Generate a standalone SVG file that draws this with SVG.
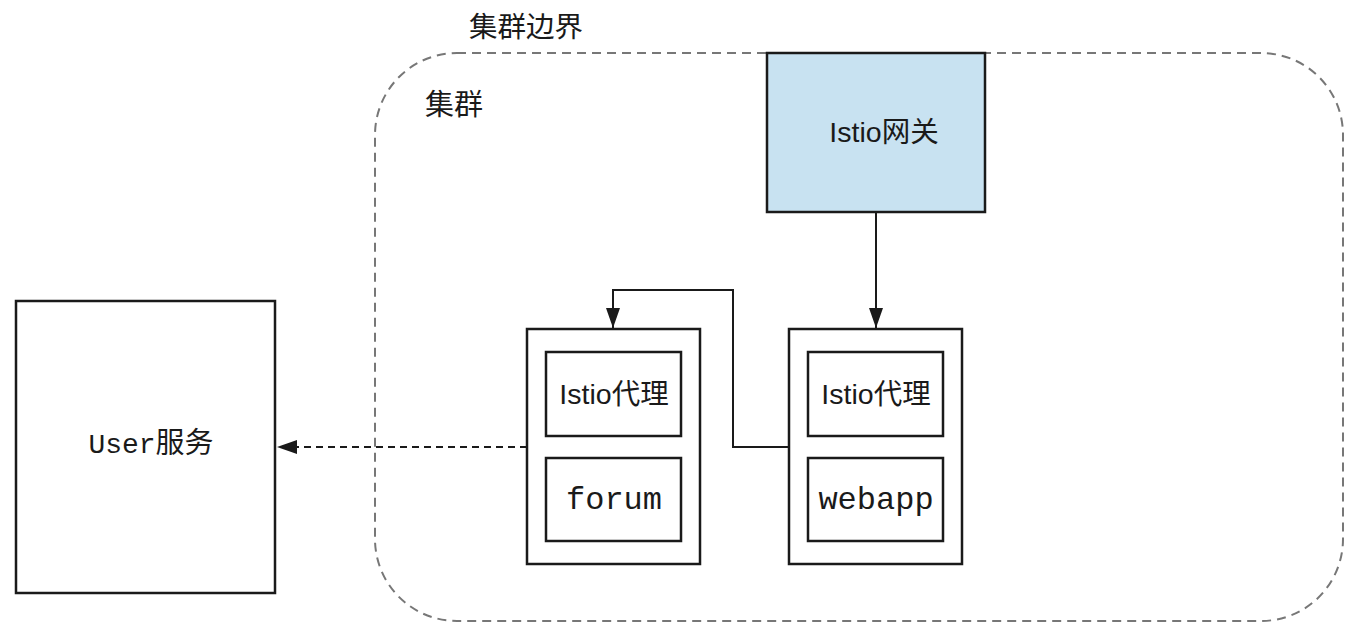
<svg xmlns="http://www.w3.org/2000/svg" width="1364" height="640" viewBox="0 0 1364 640">
<style>
.box{fill:#fff;stroke:#1a1a1a;stroke-width:2.5}
.sans{font-family:"Liberation Sans","Noto Sans CJK SC",sans-serif;font-size:28.5px;fill:#1a1a1a}
.mono{font-family:"Liberation Mono","Noto Sans CJK SC",monospace;font-size:32px;fill:#1a1a1a}
.cjk{font-family:"Noto Sans CJK SC",sans-serif;fill:#1a1a1a}
.line{fill:none;stroke:#1a1a1a;stroke-width:2}
</style>
<defs>
<marker id="arrL" viewBox="0 0 20 14" refX="20" refY="7" markerWidth="20" markerHeight="14" markerUnits="userSpaceOnUse" orient="auto">
<path d="M0,0 L20,7 L0,14 z" fill="#1a1a1a"/>
</marker>
</defs>
<rect width="1364" height="640" fill="#fff"/>
<g id="cluster">
<rect x="375" y="53" width="968" height="568" rx="82" ry="82" fill="none" stroke="#777" stroke-width="2" stroke-dasharray="9,6"/>
<text class="cjk" x="469" y="37" font-size="28.5">集群边界</text>
<text class="cjk" x="425" y="115" font-size="29">集群</text>
</g>
<g id="gateway">
<rect x="767" y="53" width="218" height="159" fill="#c8e2f1" stroke="#1a1a1a" stroke-width="2.5"/>
<text class="sans" x="884" y="142" text-anchor="middle">Istio网关</text>
</g>
<g id="user">
<rect class="box" x="16" y="301" width="259" height="292"/>
<text x="151" y="453" text-anchor="middle" fill="#1a1a1a"><tspan font-family="Liberation Mono,monospace" font-size="28">User</tspan><tspan font-family="Noto Sans CJK SC,sans-serif" font-size="29">服务</tspan></text>
</g>
<g id="forum">
<rect class="box" x="527" y="329" width="173" height="235"/>
<rect class="box" x="546" y="352" width="135" height="84"/>
<text class="sans" x="614" y="404" text-anchor="middle">Istio代理</text>
<rect class="box" x="546" y="458" width="135" height="83"/>
<text class="mono" x="614" y="509" text-anchor="middle">forum</text>
</g>
<g id="webapp">
<rect class="box" x="789" y="329" width="173" height="235"/>
<rect class="box" x="808" y="352" width="135" height="84"/>
<text class="sans" x="876" y="404" text-anchor="middle">Istio代理</text>
<rect class="box" x="808" y="458" width="135" height="83"/>
<text class="mono" x="876" y="509" text-anchor="middle">webapp</text>
</g>
<g id="connectors">
<path class="line" d="M876,212 V328" marker-end="url(#arrL)"/>
<path class="line" d="M789,447 H733 V290 H613 V328" marker-end="url(#arrL)"/>
<path class="line" d="M527,447 H277" stroke-dasharray="7,5" marker-end="url(#arrL)"/>
</g>
</svg>
